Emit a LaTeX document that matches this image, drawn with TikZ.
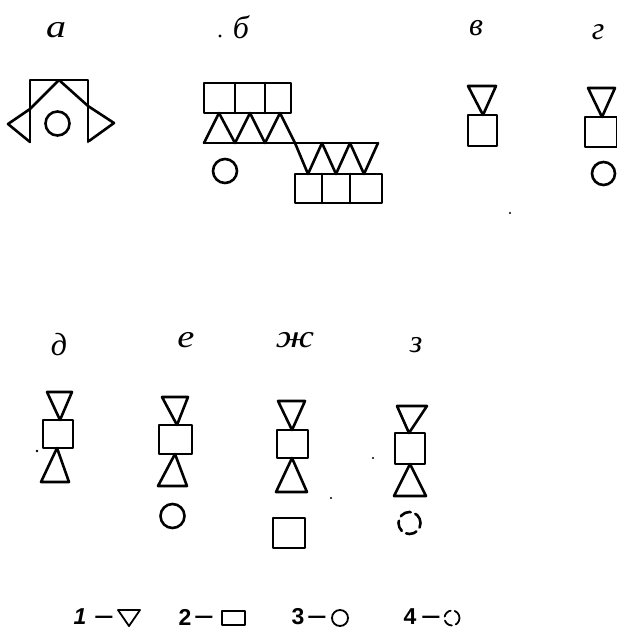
\documentclass[tikz,border=0pt]{standalone}
\usepackage{fontspec}
\setmainfont{Liberation Serif}
\newfontfamily\lblfont{Liberation Serif}
\newfontfamily\numfont{Liberation Sans}
\begin{document}
\begin{tikzpicture}[x=1pt,y=-1pt,line width=2.6pt,line join=round,line cap=round,
  lbl/.style={font=\lblfont\itshape\fontsize{32}{32}\selectfont,inner sep=0pt},
  lgd/.style={font=\numfont\bfseries\fontsize{23}{23}\selectfont,inner sep=0pt},
  speck/.style={fill=black,draw=none},
  dcirc/.style={dash pattern=on 11pt off 5pt}]
\useasboundingbox (0,0) rectangle (617,634);

% labels
\node[lbl] (la) at (56,30) {\scalebox{1.25}[1]{а}};
\node[lbl] (lb) at (241,27) {б};
\node[lbl] (lv) at (476,28) {в};
\node[lbl] (lg) at (598,32) {г};
\node[lbl] (ld) at (59,345) {д};
\node[lbl] (le) at (186,340) {\scalebox{1.2}[1]{е}};
\node[lbl] (lzh) at (295,340) {\scalebox{1.3}[1]{ж}};
\node[lbl] (lz) at (416,345) {з};

% specks
\fill[speck] (220,36) circle (1.6pt);
\fill[speck] (37,451) circle (1.4pt);
\fill[speck] (331,498) circle (1.2pt);
\fill[speck] (373,458) circle (1.2pt);
\fill[speck] (510,213) circle (1.2pt);

% panel a
\draw (30,142) -- (30,80) -- (88,80) -- (88,142);
\draw (59,80) -- (30,109) -- (8,124) -- (30,142);
\draw (59,80) -- (88,106) -- (114,123) -- (89,141);
\draw (57.5,123.5) circle (12pt);

% panel b
\draw (204,83) rectangle (291,113);
\draw (235,83) -- (235,113) (265,83) -- (265,113);
\draw (204,143) -- (378,143);
\draw (204,143) -- (219,113) -- (235,143) -- (250,113) -- (265,143) -- (280,113) -- (295,143);
\draw (295,143) -- (308,174) -- (322,143) -- (336,174) -- (350,143) -- (364,174) -- (378,143);
\draw (295,174) rectangle (382,203);
\draw (322,174) -- (322,203) (350,174) -- (350,203);
\draw (225,171) circle (12pt);

% panel v
\draw (468,86) -- (496,86) -- (483,115) -- cycle;
\draw (468,115) rectangle (497,146);

% panel g
\draw (588,88) -- (615,88) -- (602,117) -- cycle;
\draw (585,117) rectangle (617,147);
\draw (603.5,173.5) circle (11.5pt);

% panel d
\draw (47,392) -- (72,392) -- (60,420) -- cycle;
\draw (43,420) rectangle (73,448);
\draw (41,482) -- (69,482) -- (57,448) -- cycle;

% panel e
\draw (162,397) -- (188,397) -- (177,425) -- cycle;
\draw (159,425) rectangle (192,454);
\draw (158,486) -- (187,486) -- (175,454) -- cycle;
\draw (172.5,516) circle (12pt);

% panel zh
\draw (278,401) -- (305,401) -- (292,430) -- cycle;
\draw (277,430) rectangle (308,458);
\draw (276,492) -- (307,492) -- (292,458) -- cycle;
\draw (273,518) rectangle (305,548);

% panel z
\draw (397,406) -- (427,406) -- (409,433) -- cycle;
\draw (395,433) rectangle (425,464);
\draw (394,496) -- (426,496) -- (410,464) -- cycle;
\draw[dcirc] (409.5,523) circle (11pt);

% legend
\node[lgd] (n1) at (80,617) {\itshape 1};
\node[lgd] (d1) at (104,620) {\scalebox{1.5}[1]{–}};
\draw[line width=1.8pt] (118,610) -- (140,610) -- (129,626) -- cycle;
\node[lgd] (n2) at (185,617) {2};
\node[lgd] (d2) at (204,620) {\scalebox{1.5}[1]{–}};
\draw[line width=1.8pt] (222,625) rectangle (245,611);
\node[lgd] (n3) at (298,617) {3};
\node[lgd] (d3) at (317,620) {\scalebox{1.5}[1]{–}};
\draw[line width=1.8pt] (340,618) circle (8pt);
\node[lgd] (n4) at (410,617) {4};
\node[lgd] (d4) at (431,620) {\scalebox{1.5}[1]{–}};
\draw[line width=1.8pt,dash pattern=on 9pt off 4pt] (452,618) circle (7.5pt);
\end{tikzpicture}
\end{document}
